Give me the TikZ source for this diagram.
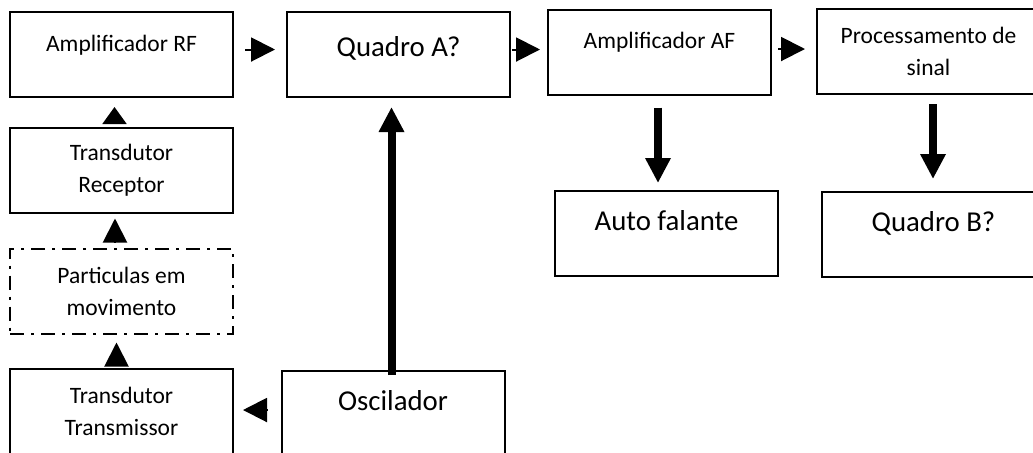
\documentclass[tikz,border=0pt]{standalone}
\usepackage{fontspec}
\setmainfont{Carlito}
\usepackage{tikz}
\usepackage{tkz-graph}
\usetikzlibrary{arrows.meta}
\tikzset{
	box oneline/.style={
		text height=19.5pt,
		text depth=23pt
	},
	box big/.style={
		font=\fontsize{14.4}{17}\selectfont
	},
	box dashdot/.style={
		line width=1.2pt,
		dash pattern=on 7pt off 3.5pt on 1.5pt off 3.5pt
	},
	tip thin/.style={
		-{Triangle[length=12pt,width=12pt]},
		line width=1pt
	},
	tip thick/.style={
		-{Triangle[length=12.5pt,width=12pt]},
		line width=4pt
	},
}

\begin{document}
\begin{tikzpicture}[x=0.5pt,y=-0.5pt,font=\fontsize{11.75}{16}\selectfont]
\useasboundingbox (0,0) rectangle (1033,452);
\clip (0,0) rectangle (1033,452);
\tikzset{VertexStyle/.style = {
		shape = rectangle,
		draw,
		line width = 1pt,
		minimum width = 111.5pt,
		minimum height = 42.5pt,
		inner sep = 0pt,
		align = center}}

\Vertex[x=121.5,y=54.5,L=Amplificador RF,style={box oneline}]{ampRF}
	\Vertex[x=398.5,y=54.5,L=Quadro A?,style={box big,text height=22.3pt,text depth=20.2pt}]{quadroA}
		\Vertex[x=659.5,y=52,L=Amplificador AF,style={box oneline}]{ampAF}
			\Vertex[x=666.5,y=233.5,L=Auto falante,style={box big,box oneline}]{autoFalante}
		\Vertex[x=928.5,y=51.5,L={Processamento de\\sinal}]{procSinal}
			\Vertex[x=933.5,y=234.5,L=Quadro B?,style={box big,box oneline}]{quadroB}
\Vertex[x=121.5,y=170,L={Transdutor\\Receptor}]{transdRec}
	\Vertex[x=121.5,y=291,L={Particulas em\\movimento},style={box dashdot}]{particulas}
		\Vertex[x=121.5,y=411.5,L={Transdutor\\Transmissor}]{transdTrans}
			\Vertex[x=393,y=413.5,L=Oscilador,style={box big,box oneline}]{oscilador}

\draw[tip thin,shorten <=6pt,shorten >=6pt] ([yshift=2.5pt]ampRF.east) -- ([yshift=2.5pt]quadroA.west);
\draw[tip thin,shorten <=1pt,shorten >=4pt] ([yshift=2.5pt]quadroA.east) -- ([yshift=1.25pt]ampAF.west);
\draw[tip thin,shorten <=3.5pt,shorten >=6pt] ([yshift=1.5pt]ampAF.east) -- ([yshift=1.25pt]procSinal.west);
\draw[tip thin,-{Triangle[length=8.5pt,width=12pt]},shorten <=2pt,shorten >=5pt] ([xshift=-3.5pt]transdRec.north) -- ([xshift=-3.5pt]ampRF.south);
\draw[tip thin,shorten <=3.5pt,shorten >=3pt] ([xshift=-3.25pt]particulas.north) -- ([xshift=-3.25pt]transdRec.south);
\draw[tip thin,shorten <=2pt,shorten >=4.5pt] ([xshift=-2.5pt]transdTrans.north) -- ([xshift=-2.5pt]particulas.south);
\draw[tip thin,shorten <=7pt,shorten >=5pt] ([yshift=1.75pt]oscilador.west) -- ([yshift=0.75pt]transdTrans.east);
\draw[tip thick,shorten <=-2pt,shorten >=5pt] ([xshift=-0.75pt]oscilador.north) -- ([xshift=-3.5pt]quadroA.south);
\draw[tip thick,shorten <=6.5pt,shorten >=4pt] ([xshift=-0.75pt]ampAF.south) -- ([xshift=-4.25pt]autoFalante.north);
\draw[tip thick,shorten <=5pt,shorten >=6.5pt] ([xshift=2.25pt]procSinal.south) -- ([xshift=-0.25pt]quadroB.north);

\end{tikzpicture}
\end{document}
